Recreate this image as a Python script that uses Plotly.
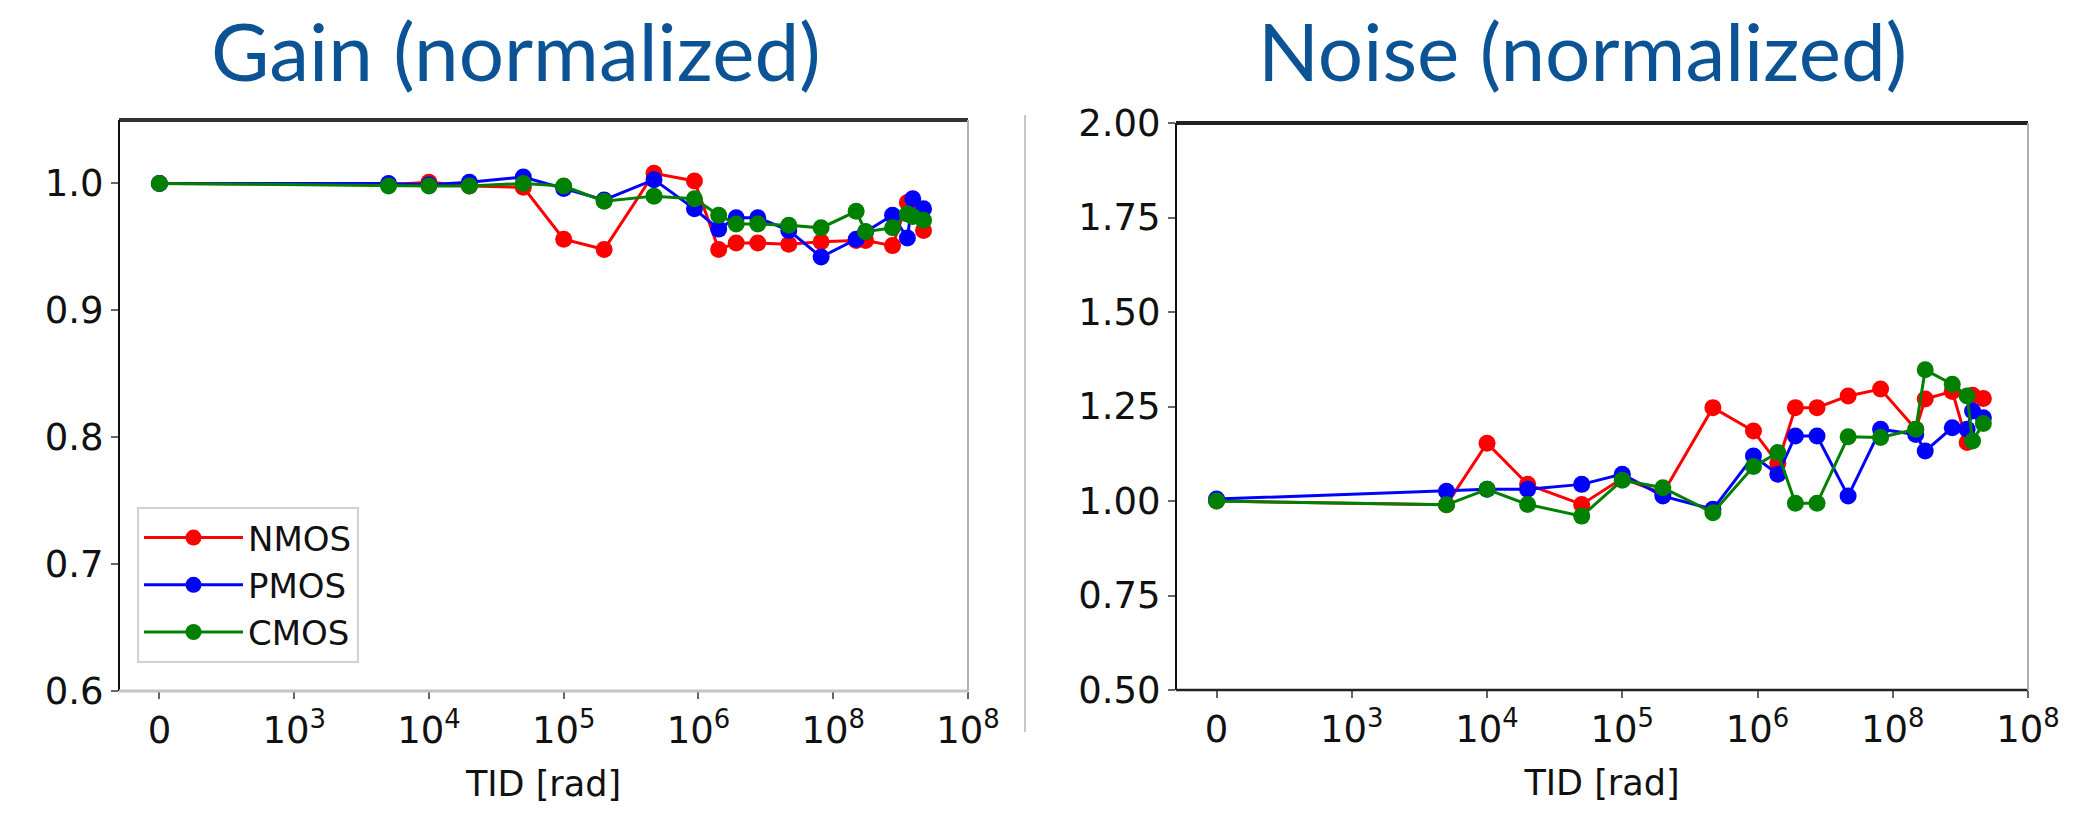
import plotly.graph_objects as go

# Dose positions on the decade axis (0 = unirradiated, 1 = 1e3, 2 = 1e4, ...)
tid_pos = [0, 1.7, 2.0, 2.3, 2.7, 3.0, 3.3, 3.67, 3.97, 4.15, 4.28, 4.44,
           4.67, 4.91, 5.17, 5.24, 5.44, 5.55, 5.59, 5.67]

tick_pos = [0, 1, 2, 3, 4, 5, 6]
tick_text = ["0", "10<sup>3</sup>", "10<sup>4</sup>", "10<sup>5</sup>",
             "10<sup>6</sup>", "10<sup>8</sup>", "10<sup>8</sup>"]

series_names = ["NMOS", "PMOS", "CMOS"]
series_colors = ["#ff0000", "#0000ff", "#008000"]

gain_nmos = [1.0, 0.999, 1.001, 0.998, 0.997, 0.956, 0.948, 1.008, 1.002, 0.948,
             0.953, 0.953, 0.952, 0.954, 0.955, 0.955, 0.951, 0.985, 0.983, 0.963]
gain_pmos = [1.0, 1.0, 0.999, 1.001, 1.005, 0.996, 0.987, 1.003, 0.980, 0.964,
             0.973, 0.973, 0.963, 0.942, 0.956, 0.962, 0.975, 0.957, 0.988, 0.980]
gain_cmos = [1.0, 0.998, 0.998, 0.998, 1.0, 0.998, 0.986, 0.990, 0.988, 0.975,
             0.968, 0.968, 0.967, 0.965, 0.978, 0.962, 0.965, 0.976, 0.974, 0.971]

noise_nmos = [1.0, 0.99, 1.153, 1.044, 0.991, 1.06, 1.02, 1.247, 1.185, 1.10,
              1.247, 1.247, 1.278, 1.296, 1.19, 1.27, 1.29, 1.155, 1.28, 1.271]
noise_pmos = [1.005, 1.026, 1.031, 1.031, 1.044, 1.071, 1.013, 0.978, 1.119, 1.071,
              1.172, 1.172, 1.013, 1.19, 1.176, 1.132, 1.194, 1.19, 1.238, 1.22]
noise_cmos = [1.0, 0.99, 1.031, 0.991, 0.96, 1.055, 1.035, 0.969, 1.091, 1.128,
              0.994, 0.994, 1.170, 1.168, 1.19, 1.347, 1.309, 1.278, 1.159, 1.205]

gain_series = [gain_nmos, gain_pmos, gain_cmos]
noise_series = [noise_nmos, noise_pmos, noise_cmos]

W, H = 2076, 836
TICK_FONT = dict(family="DejaVu Sans", size=37, color="#111111")

fig = go.Figure()

for name, color, ys in zip(series_names, series_colors, gain_series):
    fig.add_trace(go.Scatter(
        x=tid_pos, y=ys, mode="lines+markers", name=name,
        line=dict(color=color, width=3),
        marker=dict(color=color, size=17),
        xaxis="x", yaxis="y", showlegend=True))

for name, color, ys in zip(series_names, series_colors, noise_series):
    fig.add_trace(go.Scatter(
        x=tid_pos, y=ys, mode="lines+markers", name=name,
        line=dict(color=color, width=3),
        marker=dict(color=color, size=17),
        xaxis="x2", yaxis="y2", showlegend=False))

xaxis_common = dict(
    tickmode="array", tickvals=tick_pos, ticktext=tick_text,
    range=[-0.3, 6.0], showgrid=False, zeroline=False, showline=False,
    automargin=False,
    ticks="outside", ticklen=7, tickwidth=1.5, tickcolor="#666666",
    tickfont=TICK_FONT,
    title=dict(text="TID [rad]", font=dict(family="DejaVu Sans", size=35, color="#111111"),
               standoff=20),
)

yaxis_common = dict(
    showgrid=False, zeroline=False, showline=False, automargin=False,
    ticks="outside", ticklen=7, tickwidth=1.5, tickcolor="#666666",
    tickfont=TICK_FONT,
)

fig.update_layout(
    width=W, height=H,
    margin=dict(l=0, r=0, t=0, b=0, autoexpand=False),
    paper_bgcolor="white", plot_bgcolor="white",
    xaxis=dict(domain=[119 / W, 968 / W], anchor="y", **xaxis_common),
    yaxis=dict(domain=[1 - 691 / H, 1 - 120 / H], anchor="x",
               range=[0.6, 1.05], tickvals=[0.6, 0.7, 0.8, 0.9, 1.0], tickformat=".1f",
               **yaxis_common),
    xaxis2=dict(domain=[1176 / W, 2028 / W], anchor="y2", **xaxis_common),
    yaxis2=dict(domain=[1 - 690 / H, 1 - 123 / H], anchor="x2",
                range=[0.5, 2.0], tickvals=[0.5, 0.75, 1.0, 1.25, 1.5, 1.75, 2.0],
                tickformat=".2f", **yaxis_common),
    legend=dict(
        x=137 / W, y=1 - 507 / H, xanchor="left", yanchor="top",
        bgcolor="rgba(255,255,255,0.9)", bordercolor="#d0d0d0", borderwidth=2,
        font=dict(family="DejaVu Sans", size=34, color="#111111"),
        itemwidth=99, tracegroupgap=10,
    ),
    font=dict(family="DejaVu Sans"),
)

# Panel titles
for text, xc in [("Gain (normalized)", 516 / W), ("Noise (normalized)", 1582 / W)]:
    fig.add_annotation(
        text=text, x=xc, y=1 - 50 / H, xref="paper", yref="paper",
        xanchor="center", yanchor="middle", showarrow=False,
        font=dict(family="Lato", size=80, color="#0b5394"))

# Axes frames
def frame(xr, yr, top, left, bottom, right):
    segs = [
        (0, 1, 1, 1, top),
        (0, 0, 0, 1, left),
        (0, 1, 0, 0, bottom),
        (1, 1, 0, 1, right),
    ]
    for x0, x1, y0, y1, (col, w) in segs:
        fig.add_shape(type="line", xref=xr, yref=yr, x0=x0, x1=x1, y0=y0, y1=y1,
                      line=dict(color=col, width=w), layer="above")

frame("x domain", "y domain", ("#333333", 4), ("#111111", 2), ("#c4c4c4", 3), ("#b0b0b0", 2))
frame("x2 domain", "y2 domain", ("#222222", 4), ("#111111", 2), ("#222222", 2.5), ("#b0b0b0", 2))

# Divider between panels
fig.add_shape(type="line", xref="paper", yref="paper",
              x0=1025 / W, x1=1025 / W, y0=1 - 732 / H, y1=1 - 115 / H,
              line=dict(color="#c8c8c8", width=2))

fig.write_html("out.html")
